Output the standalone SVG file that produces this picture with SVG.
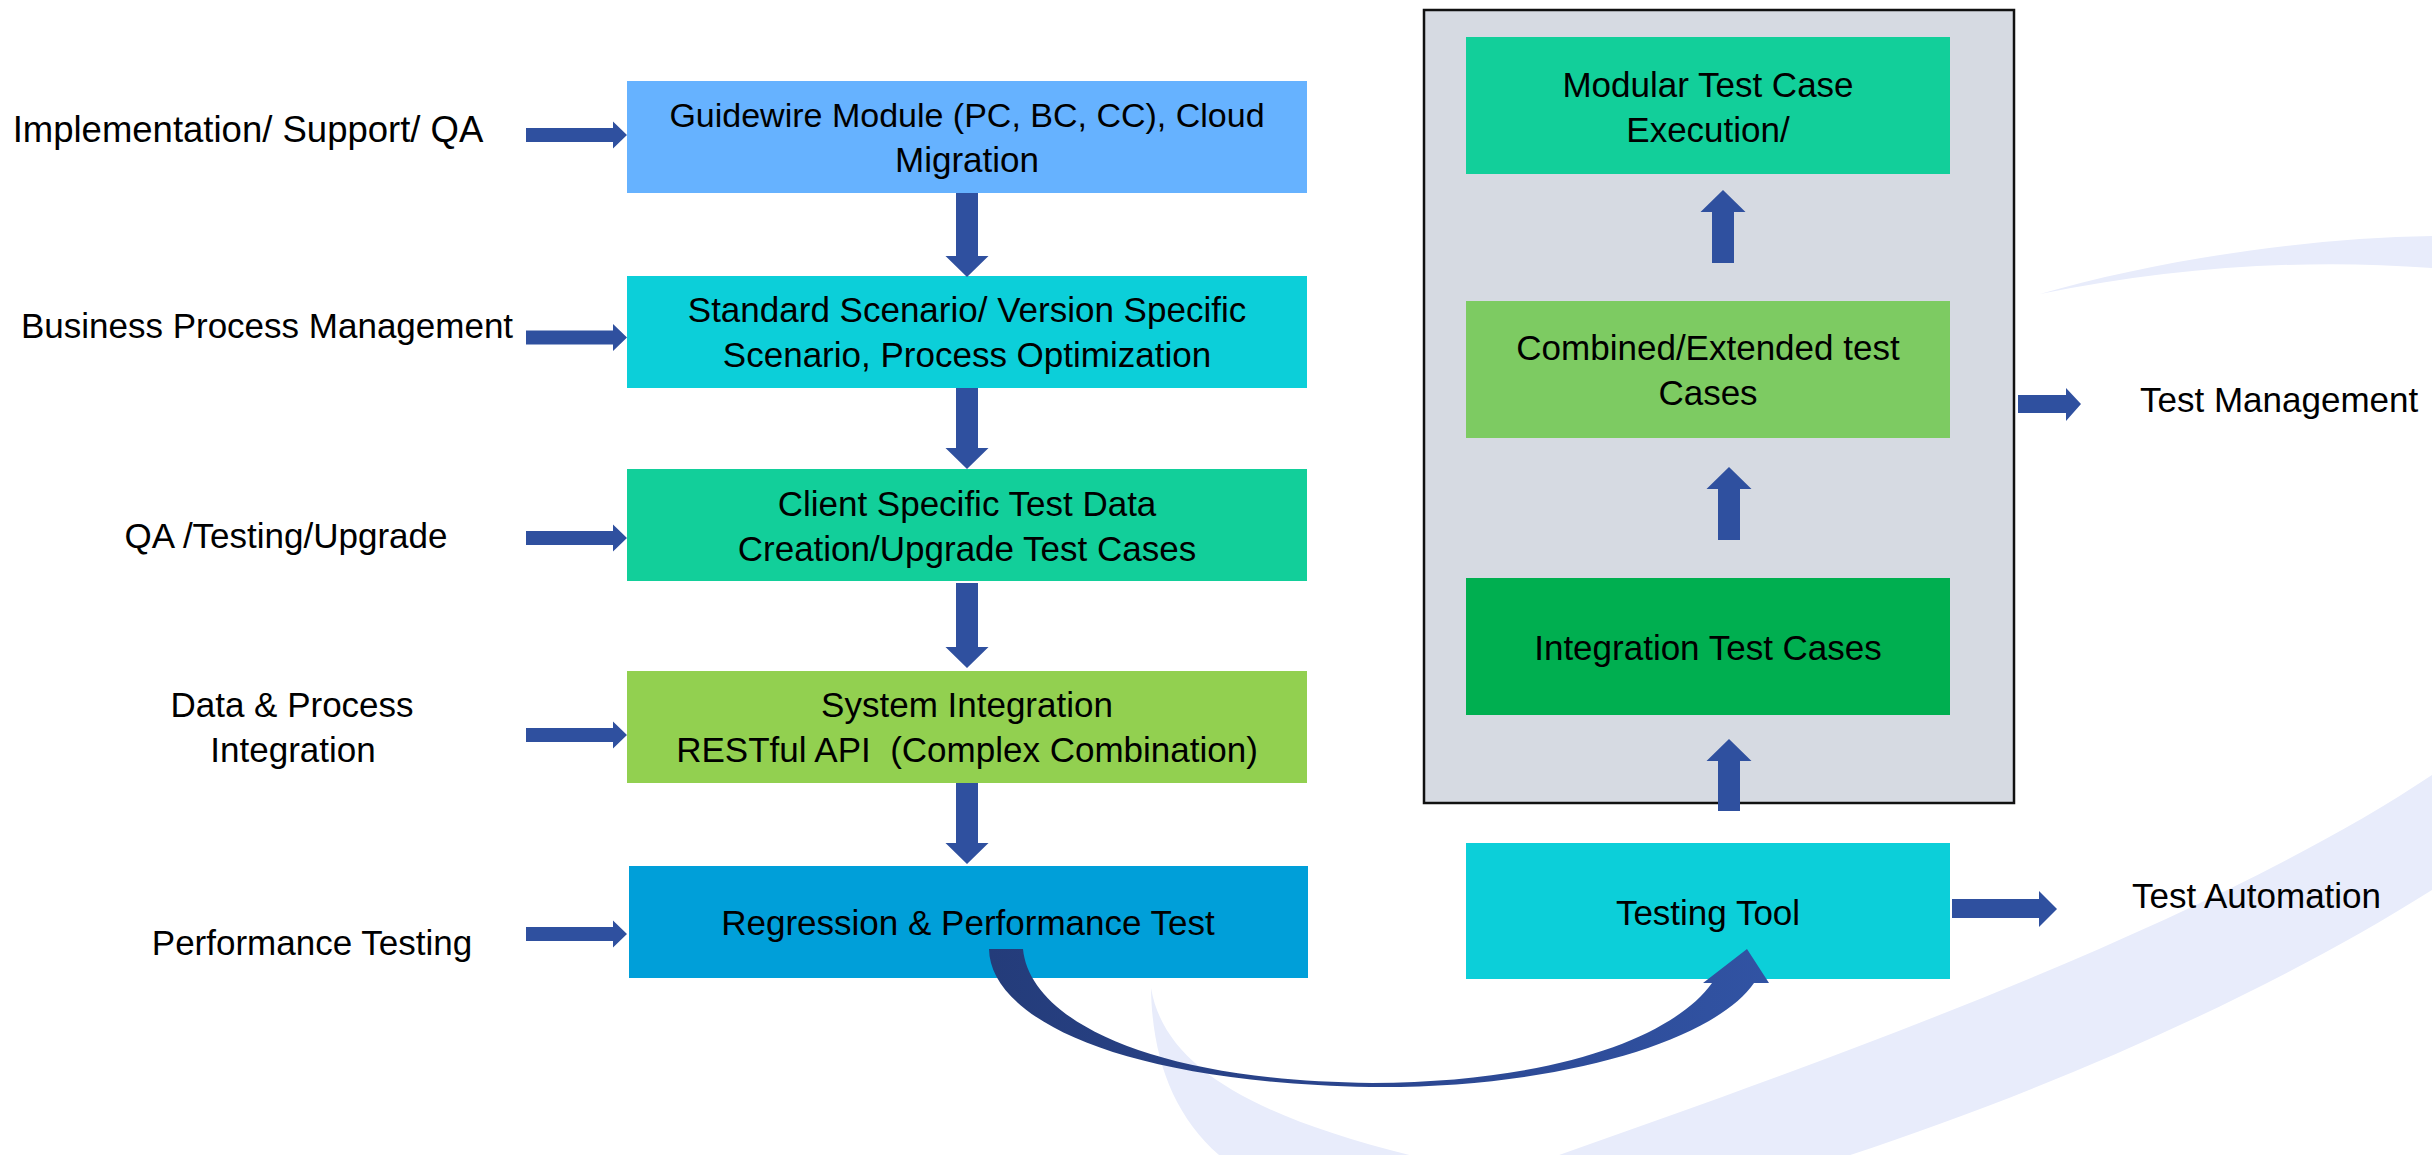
<svg xmlns="http://www.w3.org/2000/svg" width="2432" height="1155" viewBox="0 0 2432 1155">
  <style>
    .t { font-family: "Liberation Sans", Arial, sans-serif; font-size: 35px; fill: #000; }
    .c { text-anchor: middle; }
    .arr { fill: #2F509F; }
    .sw { fill: #E8ECFB; }
  </style>
  <defs>
    <linearGradient id="curveGrad" gradientUnits="userSpaceOnUse" x1="989" y1="0" x2="1769" y2="0">
      <stop offset="0" stop-color="#243C7A"/>
      <stop offset="0.5" stop-color="#2B4690"/>
      <stop offset="1" stop-color="#3153A3"/>
    </linearGradient>
  </defs>
  <rect width="2432" height="1155" fill="#FFFFFF"/>

  <!-- background watermark swoosh -->
  <g id="watermark">
    <path class="sw" d="M2040,294 C2150,262 2300,238 2432,236 L2432,268 C2300,258 2170,268 2040,294 Z"/>
    <path class="sw" d="M1151,988 C1152,1060 1175,1120 1225,1160 L1430,1160 C1260,1120 1165,1070 1151,988 Z"/>
    <path class="sw" d="M1545,1160 C1800,1070 2200,930 2432,775 L2432,890 C2250,1005 2020,1100 1835,1160 Z"/>
  </g>

  <!-- left column nodes -->
  <g id="n-guidewire">
    <rect x="627" y="81" width="680" height="112" fill="#66B2FF"/>
    <text class="t c" x="967" y="127" style="font-size:34px">Guidewire Module (PC, BC, CC), Cloud</text>
    <text class="t c" x="967" y="172">Migration</text>
  </g>
  <g id="n-standard">
    <rect x="627" y="276" width="680" height="112" fill="#0CCFD9"/>
    <text class="t c" x="967" y="322">Standard Scenario/ Version Specific</text>
    <text class="t c" x="967" y="367">Scenario, Process Optimization</text>
  </g>
  <g id="n-client">
    <rect x="627" y="469" width="680" height="112" fill="#12CF9A"/>
    <text class="t c" x="967" y="516">Client Specific Test Data</text>
    <text class="t c" x="967" y="561">Creation/Upgrade Test Cases</text>
  </g>
  <g id="n-system">
    <rect x="627" y="671" width="680" height="112" fill="#92D050"/>
    <text class="t c" x="967" y="717">System Integration</text>
    <text class="t c" x="967" y="762" style="white-space:pre">RESTful API  (Complex Combination)</text>
  </g>
  <g id="n-regression">
    <rect x="629" y="866" width="679" height="112" fill="#009FD9"/>
    <text class="t c" x="968" y="935">Regression &amp; Performance Test</text>
  </g>

  <!-- left labels -->
  <g id="l-impl"><text class="t c" x="248" y="142" style="font-size:36.5px">Implementation/ Support/ QA</text></g>
  <g id="l-bpm"><text class="t c" x="267" y="338">Business Process Management</text></g>
  <g id="l-qa"><text class="t c" x="286" y="548">QA /Testing/Upgrade</text></g>
  <g id="l-data">
    <text class="t c" x="292" y="717">Data &amp; Process</text>
    <text class="t c" x="293" y="762">Integration</text>
  </g>
  <g id="l-perf"><text class="t c" x="312" y="955">Performance Testing</text></g>

  <!-- right container -->
  <g id="n-container">
    <rect x="1424" y="10" width="590" height="793" fill="#D6DAE2" stroke="#111" stroke-width="2.5"/>
  </g>
  <g id="n-modular">
    <rect x="1466" y="37" width="484" height="137" fill="#12CF9A"/>
    <text class="t c" x="1708" y="97">Modular Test Case</text>
    <text class="t c" x="1708" y="142">Execution/</text>
  </g>
  <g id="n-combined">
    <rect x="1466" y="301" width="484" height="137" fill="#7DCB62"/>
    <text class="t c" x="1708" y="360">Combined/Extended test</text>
    <text class="t c" x="1708" y="405">Cases</text>
  </g>
  <g id="n-integration">
    <rect x="1466" y="578" width="484" height="137" fill="#00AF50"/>
    <text class="t c" x="1708" y="660">Integration Test Cases</text>
  </g>
  <g id="n-tool">
    <rect x="1466" y="843" width="484" height="136" fill="#0CCFD9"/>
    <text class="t c" x="1708" y="925">Testing Tool</text>
  </g>
  <g id="l-mgmt"><text class="t" x="2140" y="412">Test Management</text></g>
  <g id="l-auto"><text class="t" x="2132" y="908">Test Automation</text></g>

  <!-- connectors -->
  <g id="connectors">
    <!-- left input arrows -->
    <polygon class="arr" points="526,128 613,128 613,121.5 627,135 613,148.5 613,142 526,142"/>
    <polygon class="arr" points="526,330.5 613,330.5 613,324 627,337.5 613,351 613,344.5 526,344.5"/>
    <polygon class="arr" points="526,531 613,531 613,524.5 627,538 613,551.5 613,545 526,545"/>
    <polygon class="arr" points="526,728 613,728 613,721.5 627,735 613,748.5 613,742 526,742"/>
    <polygon class="arr" points="526,927 613,927 613,920.5 627,934 613,947.5 613,941 526,941"/>
    <!-- down arrows -->
    <polygon class="arr" points="956,193 978,193 978,256 988.5,256 967,277 945.5,256 956,256"/>
    <polygon class="arr" points="956,388 978,388 978,448 988.5,448 967,469 945.5,448 956,448"/>
    <polygon class="arr" points="956,583 978,583 978,647 988.5,647 967,668 945.5,647 956,647"/>
    <polygon class="arr" points="956,783 978,783 978,843 988.5,843 967,864 945.5,843 956,843"/>
    <!-- up arrows -->
    <polygon class="arr" points="1712,263 1734,263 1734,212 1745.5,212 1723,190 1700.5,212 1712,212"/>
    <polygon class="arr" points="1718,540 1740,540 1740,489 1751.5,489 1729,467 1706.5,489 1718,489"/>
    <polygon class="arr" points="1718,811 1740,811 1740,761 1751.5,761 1729,739 1706.5,761 1718,761"/>
    <!-- right output arrows -->
    <polygon class="arr" points="2018,395 2066,395 2066,388 2081,404 2066,421 2066,413 2018,413"/>
    <polygon class="arr" points="1952,899 2039,899 2039,891 2057,909 2039,927 2039,918 1952,918"/>
    <!-- curved arrow: regression -> testing tool -->
    <path fill="url(#curveGrad)" d="M989,949 C990,1015 1110,1082 1370,1087 C1560,1089 1715,1040 1754,983 L1769,983 L1747,949 L1703,983 L1712,983 C1675,1035 1560,1082 1372,1083 C1150,1081 1030,1020 1023,949 Z"/>
  </g>
</svg>
